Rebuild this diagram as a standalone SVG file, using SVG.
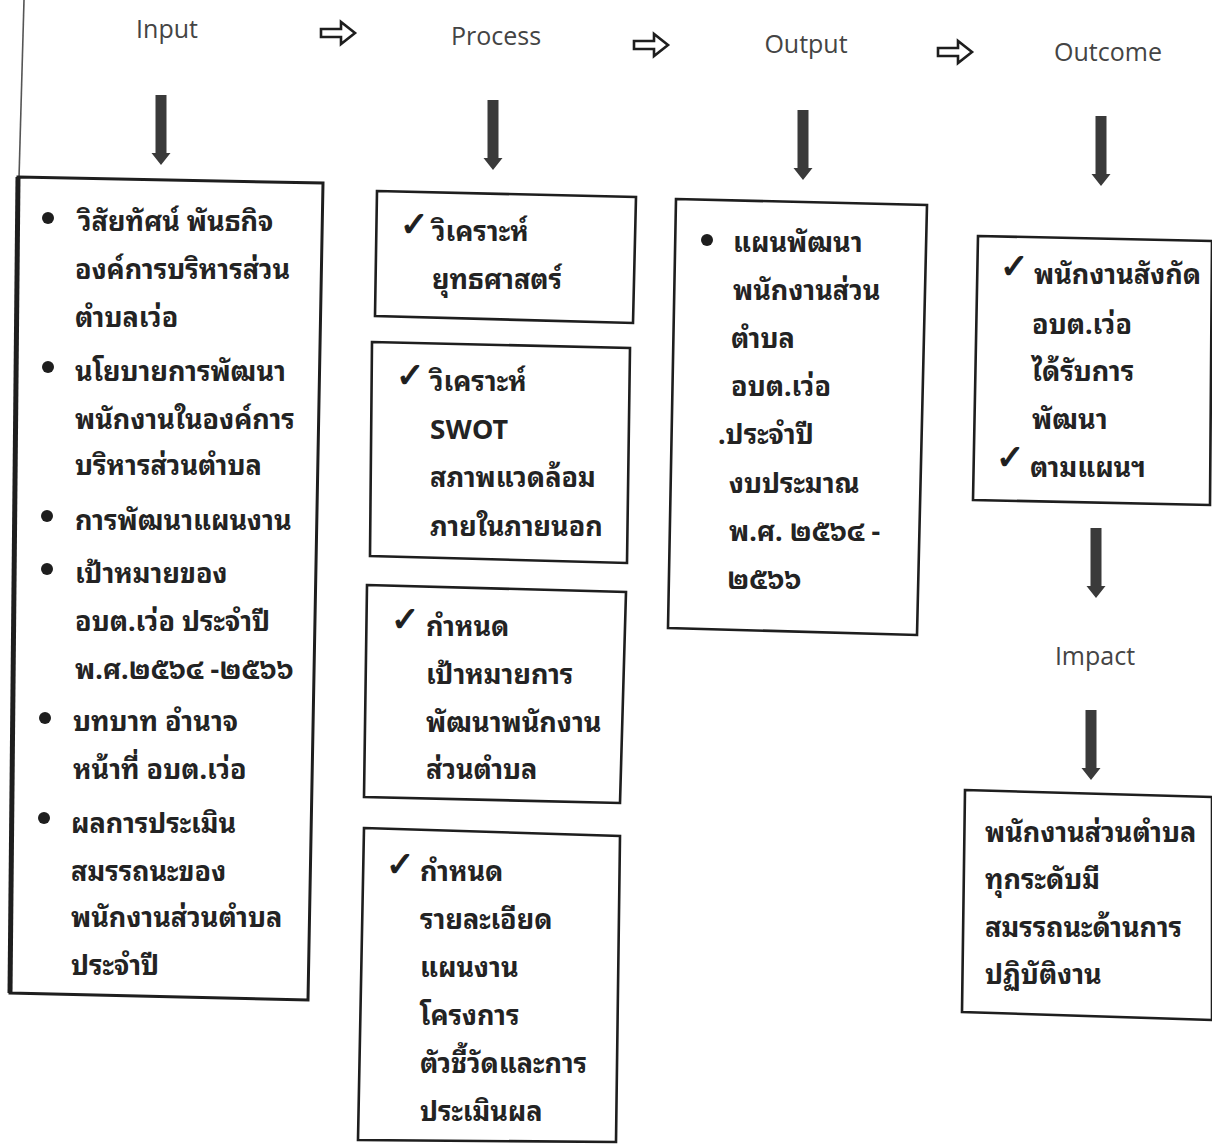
<svg xmlns="http://www.w3.org/2000/svg" width="1212" height="1146" viewBox="0 0 1212 1146">
<style>
.bg{fill:#ffffff}
.box{fill:none;stroke:#1e1e1e;stroke-width:2.6;stroke-linejoin:miter}
.hd{font-family:"Open Sans","Noto Sans",sans-serif;font-size:25px;fill:#444444}
.t{font-family:"Noto Sans Thai Looped","Loma","Garuda","Tahoma","Noto Sans Thai","Noto Sans","DejaVu Sans",sans-serif;font-size:27px;font-weight:bold;fill:#232323}
.ck{font-family:"DejaVu Sans",sans-serif;font-size:34px;fill:#1e1e1e;stroke:#1e1e1e;stroke-width:1.2}
.dn{fill:#3a3a3a}
.rt{fill:#ffffff;stroke:#1e1e1e;stroke-width:2.6;stroke-linejoin:miter}
.bul{fill:#1e1e1e}
.edge{stroke:#555;stroke-width:1.6;fill:none}
</style>
<defs>
<path id="down" d="M-5.5,0 h11 v58 h4 l-9.5,12 l-9.5,-12 h4 z"/>
<path id="right" d="M0,-4 h20 v-7 l14,11 l-14,11 v-7 h-20 z"/>
</defs>
<rect class="bg" x="0" y="0" width="1212" height="1146"/>
<line class="edge" x1="24" y1="0" x2="19" y2="178"/>

<g id="headers">
<text class="hd" x="167" y="38" text-anchor="middle">Input</text>
<text class="hd" x="496" y="45" text-anchor="middle">Process</text>
<text class="hd" x="806" y="53" text-anchor="middle">Output</text>
<text class="hd" x="1108" y="61" text-anchor="middle">Outcome</text>
<text class="hd" x="1095" y="665" text-anchor="middle">Impact</text>
</g>

<g id="connectors">
<use href="#right" class="rt" x="321" y="33"/>
<use href="#right" class="rt" x="634" y="45"/>
<use href="#right" class="rt" x="938" y="52"/>
<use href="#down" class="dn" x="161" y="95"/>
<use href="#down" class="dn" x="493" y="100"/>
<use href="#down" class="dn" x="803" y="110"/>
<use href="#down" class="dn" x="1101" y="116"/>
<use href="#down" class="dn" x="1096" y="528"/>
<use href="#down" class="dn" x="1091" y="710"/>
</g>

<g id="input">
<polygon class="box" points="18,177 323,183 308,1000 10,993" style="stroke-width:3"/>
<line x1="18" y1="177" x2="10" y2="993" stroke="#1e1e1e" stroke-width="5"/>
<circle class="bul" cx="48" cy="218" r="6"/>
<circle class="bul" cx="48" cy="367" r="6"/>
<circle class="bul" cx="47" cy="516" r="6"/>
<circle class="bul" cx="47" cy="569" r="6"/>
<circle class="bul" cx="45" cy="718" r="6"/>
<circle class="bul" cx="44" cy="818" r="6"/>
<text class="t" x="78" y="231">วิสัยทัศน์ พันธกิจ</text>
<text class="t" x="75" y="279">องค์การบริหารส่วน</text>
<text class="t" x="75" y="327">ตำบลเว่อ</text>
<text class="t" x="75" y="381">นโยบายการพัฒนา</text>
<text class="t" x="75" y="429">พนักงานในองค์การ</text>
<text class="t" x="75" y="475">บริหารส่วนตำบล</text>
<text class="t" x="75" y="530">การพัฒนาแผนงาน</text>
<text class="t" x="75" y="583">เป้าหมายของ</text>
<text class="t" x="75" y="631">อบต.เว่อ ประจำปี</text>
<text class="t" x="75" y="679">พ.ศ.๒๕๖๔ -๒๕๖๖</text>
<text class="t" x="73" y="731">บทบาท อำนาจ</text>
<text class="t" x="73" y="779">หน้าที่ อบต.เว่อ</text>
<text class="t" x="71" y="833">ผลการประเมิน</text>
<text class="t" x="71" y="881">สมรรถนะของ</text>
<text class="t" x="71" y="927">พนักงานส่วนตำบล</text>
<text class="t" x="71" y="975">ประจำปี</text>
</g>

<g id="process1">
<polygon class="box" points="377,191 636,197 633,323 375,316"/>
<text class="ck" x="400" y="236">✓</text>
<text class="t" x="432" y="241">วิเคราะห์</text>
<text class="t" x="432" y="289">ยุทธศาสตร์</text>
</g>

<g id="process2">
<polygon class="box" points="372,342 630,348 627,563 370,556"/>
<text class="ck" x="396" y="387">✓</text>
<text class="t" x="430" y="391">วิเคราะห์</text>
<text class="t" x="430" y="439">SWOT</text>
<text class="t" x="430" y="487">สภาพแวดล้อม</text>
<text class="t" x="430" y="536">ภายในภายนอก</text>
</g>

<g id="process3">
<polygon class="box" points="367,585 626,592 620,803 364,797"/>
<text class="ck" x="391" y="631">✓</text>
<text class="t" x="426" y="636">กำหนด</text>
<text class="t" x="426" y="684">เป้าหมายการ</text>
<text class="t" x="426" y="732">พัฒนาพนักงาน</text>
<text class="t" x="426" y="779">ส่วนตำบล</text>
</g>

<g id="process4">
<polygon class="box" points="364,828 620,836 616,1142 358,1140"/>
<text class="ck" x="386" y="876">✓</text>
<text class="t" x="420" y="881">กำหนด</text>
<text class="t" x="420" y="929">รายละเอียด</text>
<text class="t" x="420" y="977">แผนงาน</text>
<text class="t" x="420" y="1025">โครงการ</text>
<text class="t" x="420" y="1073">ตัวชี้วัดและการ</text>
<text class="t" x="420" y="1121">ประเมินผล</text>
</g>

<g id="output">
<polygon class="box" points="676,199 927,205 917,635 668,628"/>
<circle class="bul" cx="707" cy="240" r="6"/>
<text class="t" x="733" y="252">แผนพัฒนา</text>
<text class="t" x="733" y="300">พนักงานส่วน</text>
<text class="t" x="731" y="348">ตำบล</text>
<text class="t" x="731" y="396">อบต.เว่อ</text>
<text class="t" x="718" y="444">.ประจำปี</text>
<text class="t" x="729" y="493">งบประมาณ</text>
<text class="t" x="729" y="541">พ.ศ. ๒๕๖๔ -</text>
<text class="t" x="727" y="589">๒๕๖๖</text>
</g>

<g id="outcome">
<polygon class="box" points="978,236 1212,241 1210,505 973,500"/>
<text class="ck" x="1000" y="278">✓</text>
<text class="t" x="1034" y="284">พนักงานสังกัด</text>
<text class="t" x="1032" y="334">อบต.เว่อ</text>
<text class="t" x="1032" y="381">ได้รับการ</text>
<text class="t" x="1032" y="429">พัฒนา</text>
<text class="ck" x="996" y="469">✓</text>
<text class="t" x="1030" y="477">ตามแผนฯ</text>
</g>

<g id="impact">
<polygon class="box" points="965,790 1212,797 1212,1020 962,1012"/>
<text class="t" x="985" y="842">พนักงานส่วนตำบล</text>
<text class="t" x="985" y="889">ทุกระดับมี</text>
<text class="t" x="985" y="937">สมรรถนะด้านการ</text>
<text class="t" x="985" y="984">ปฏิบัติงาน</text>
</g>
</svg>
